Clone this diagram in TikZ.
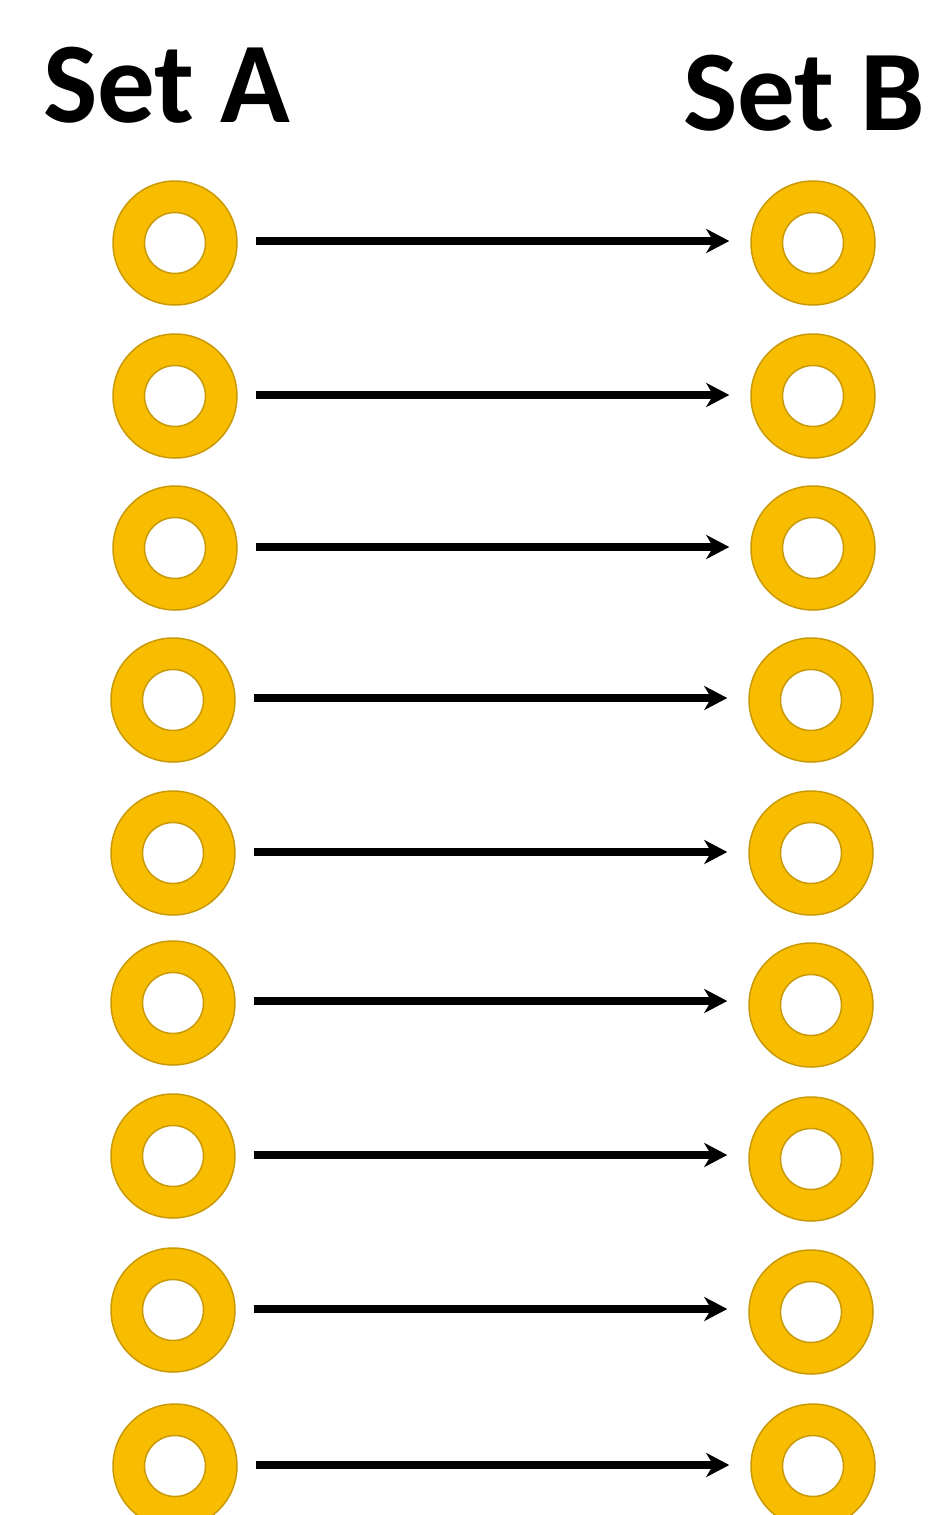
\documentclass[tikz,border=0pt]{standalone}
\usepackage{fontspec}
\setmainfont{Carlito}
\usetikzlibrary{arrows.meta}
\definecolor{ringfill}{HTML}{F8BC00}
\definecolor{ringedge}{HTML}{C99A05}
\tikzset{
  ring/.style={circle, draw=ringedge, line width=1.5pt, fill=ringfill,
    minimum size=124pt, inner sep=0pt,
    path picture={\draw[ringedge, line width=1.5pt, fill=white]
      (path picture bounding box.center) circle (30.5pt);}},
  link/.style={line width=7.5pt, shorten <=18pt, shorten >=21pt,
    -{Stealth[length=23pt, width=24pt, inset=7pt]}},
  title/.style={anchor=base west, inner sep=0pt, font=\fontsize{115}{120}\selectfont\bfseries}
}
\begin{document}
\begin{tikzpicture}[x=1pt, y=-1pt]
  \useasboundingbox (0,0) rectangle (931,1515);
  \node[title] (setA) at (43,122) {Set A};
  \node[title] (setB) at (683,130) {Set B};
  % left column, right column and the arrow joining each pair (\y = arrow height)
  \foreach \i/\xa/\ya/\xb/\yb/\y in {1/175/243/813/243/241, 2/175/396/813/396/395,
      3/175/548/813/548/547, 4/173/700/811/700/698, 5/173/853/811/853/852,
      6/173/1003/811/1005/1001, 7/173/1156/811/1159/1155, 8/173/1310/811/1312/1309,
      9/175/1466/813/1466/1465} {
    \node[ring] (a\i) at (\xa,\ya) {};
    \node[ring] (b\i) at (\xb,\yb) {};
    \draw[link] (a\i.east |- 0,\y) -- (b\i.west |- 0,\y);
  }
\end{tikzpicture}
\end{document}
